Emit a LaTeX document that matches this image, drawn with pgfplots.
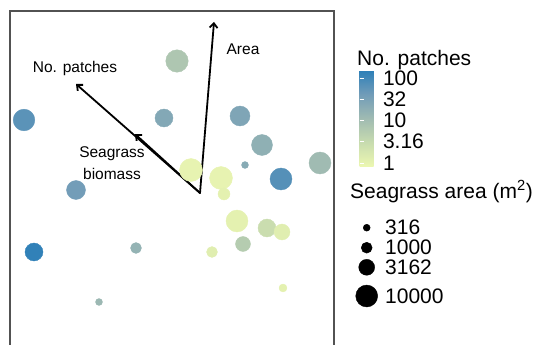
\documentclass[border=0pt]{standalone}
\usepackage{pgfplots}
\pgfplotsset{compat=1.18}
\usepackage{pgfplotstable}
\usepackage{fontspec}
\setmainfont{Liberation Sans}
\usetikzlibrary{arrows.meta}

% x, y in plot units; meta = log10(No. patches); area = seagrass area (m^2)
\pgfplotstableread{
x   y   meta  area
177 61  0.85  11000
24  120 1.80  9500
164 118 1.40  4750
240 116 1.45  6950
262 145 1.25  8360
245 165 1.35  316
320 163 1.05  10000
281 179 1.85  10000
191 170 0.00  11900
221 178 0.00  11900
224 194 0.05  1283
76  190 1.60  5760
237 221 0.05  10000
267 228 0.45  4750
282 232 0.10  3162
243 244 0.75  2560
212 252 0.10  1000
136 248 1.20  1000
34  252 2.15  4750
283 288 0.05  434
99  302 1.10  316
}\pts

\pgfplotstableread{
x     y     meta area
366.7 227.7 0 316
366.7 247.7 0 1000
366.7 267.3 0 3162
366.7 296.0 0 10000
}\sizekey

\begin{document}
\begin{tikzpicture}
\begin{axis}[
  at={(10bp,-15bp)}, anchor=south west,
  scale only axis, width=324bp, height=349bp,
  xmin=10, xmax=334, ymin=11, ymax=360, y dir=reverse,
  xtick=\empty, ytick=\empty, clip=false,
  axis line style={draw=black!68, line width=1.3bp},
  colormap={sg}{rgb255=(237,248,177) rgb255=(200,220,175) rgb255=(160,187,178) rgb255=(113,156,184) rgb255=(44,127,184)},
  point meta min=-0.094, point meta max=2.19,
  colorbar,
  colorbar style={
    at={(parent axis.north east)}, anchor=north west,
    xshift=17bp, yshift=-59bp,
    scale only axis, width=20bp, height=97bp,
    ytick={0,0.5,1,1.5,2}, yticklabels={1,3.16,10,32,100},
    ytick pos=both, yticklabel pos=right, ytick align=inside,
    major tick length=4bp, tick style={white, line width=0.6bp},
    axis line style={draw=none},
    yticklabel style={font=\fontsize{21bp}{21bp}\selectfont, anchor=west, xshift=0bp},
  },
  arr/.style={black, line width=1.8bp, line cap=round, -{Straight Barb[length=4.5bp,width=8bp,line width=1.8bp]}},
]
\addplot[scatter, only marks, mark=*,
  point meta=explicit,
  visualization depends on={\thisrow{area} \as \ar},
  scatter/use mapped color={draw=mapped color, fill=mapped color},
  scatter/@pre marker code/.append style={/tikz/mark size={(log10(\ar)-0.75)^2+0.4375}, /tikz/line width=0pt},
] table[x=x, y=y, meta=meta] {\pts};

\addplot[arr] coordinates {(200,193) (214,22)};
\addplot[arr] coordinates {(200,193) (76,84)};
\addplot[arr] coordinates {(200,193) (135,134)};

\addplot[scatter, only marks, mark=*,
  point meta=explicit,
  visualization depends on={\thisrow{area} \as \ar},
  scatter/use mapped color={draw=black, fill=black},
  scatter/@pre marker code/.append style={/tikz/mark size={(log10(\ar)-0.75)^2+0.4375}, /tikz/line width=0pt},
] table[x=x, y=y, meta=meta] {\sizekey};

\begin{scope}[font=\fontsize{15.5bp}{22bp}\selectfont]
\node at (axis cs:243,49) {Area};
\node at (axis cs:75,68) {No. patches};
\node[align=center] at (axis cs:112,163) {Seagrass\\biomass};
\end{scope}

\begin{scope}[font=\fontsize{21bp}{21bp}\selectfont]
\node[anchor=base west, inner sep=0pt] at (axis cs:357,65) {No. patches};
\node[anchor=base west, inner sep=0pt] at (axis cs:350,198) {Seagrass area (m\textsuperscript{2})};
\node[anchor=west, inner sep=0pt] at (axis cs:385,227.7) {316};
\node[anchor=west, inner sep=0pt] at (axis cs:385,247.7) {1000};
\node[anchor=west, inner sep=0pt] at (axis cs:385,267.3) {3162};
\node[anchor=west, inner sep=0pt] at (axis cs:385,296.0) {10000};
\end{scope}
\end{axis}
\pgfresetboundingbox
\path[use as bounding box] (0,0) rectangle (546bp,345bp);
\end{tikzpicture}
\end{document}
